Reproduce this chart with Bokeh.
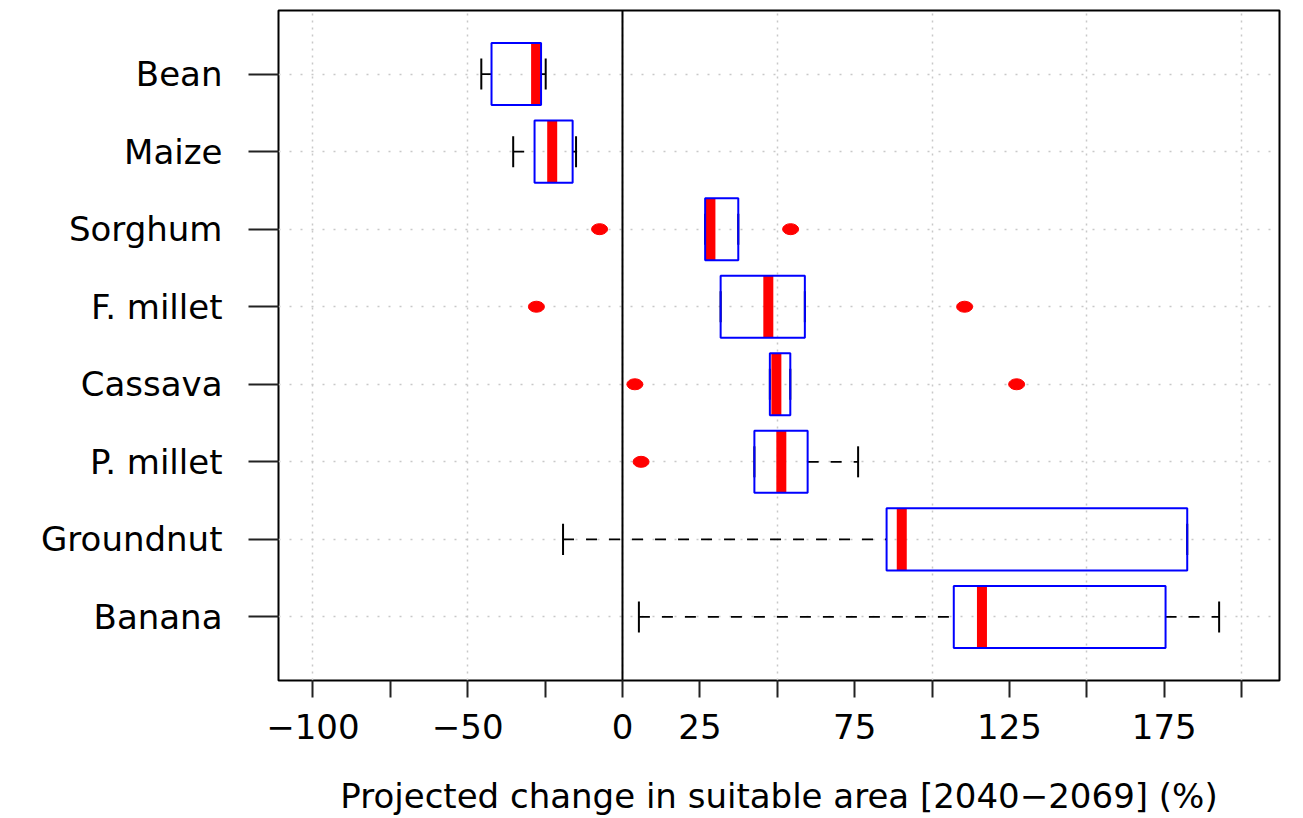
from bokeh.plotting import figure
from bokeh.models import FixedTicker, Span, ColumnDataSource
from bokeh.embed import file_html
from bokeh.resources import INLINE

# ---- data ----
crops = ["Bean", "Maize", "Sorghum", "F. millet", "Cassava", "P. millet", "Groundnut", "Banana"]
positions = [8, 7, 6, 5, 4, 3, 2, 1]
lower_whisker = [-45.6, -35.3, 26.7, 31.7, 47.6, 42.6, -19.2, 5.3]
q1 = [-42.3, -28.4, 26.7, 31.7, 47.6, 42.6, 85.3, 107.0]
median = [-27.9, -22.7, 28.4, 47.1, 49.7, 51.3, 90.2, 116.1]
q3 = [-26.3, -16.1, 37.4, 58.9, 54.2, 59.8, 182.4, 175.4]
upper_whisker = [-24.8, -15.0, 37.4, 58.9, 54.2, 76.1, 182.4, 192.7]
outlier_crop = ["Sorghum", "Sorghum", "F. millet", "F. millet", "Cassava", "Cassava", "P. millet"]
outlier_value = [-7.4, 54.3, -27.8, 110.5, 4.0, 127.3, 6.0]
x_ticks = [-100, -75, -50, -25, 0, 25, 50, 75, 100, 125, 150, 175, 200]
x_tick_labels = {-100: "\u2212100", -75: "", -50: "\u221250", -25: "", 0: "0", 25: "25",
                 50: "", 75: "75", 100: "", 125: "125", 150: "", 175: "175", 200: ""}
x_grid = [-100, -50, 0, 50, 100, 150, 200]
x_title = "Projected change in suitable area [2040\u22122069] (%)"

FONT = "DejaVu Sans"
FS = "34px"
half = 0.4
cap = 0.2
X0, X1 = -111.1, 212.2
Y0, Y1 = 0.18, 8.82

pos_of = dict(zip(crops, positions))

p = figure(width=1303, height=818, x_range=(X0, X1), y_range=(Y0, Y1),
           output_backend="svg", toolbar_location=None,
           min_border_left=278, min_border_right=24, min_border_top=10, min_border_bottom=138)
p.background_fill_color = "white"
p.border_fill_color = "white"
p.outline_line_color = "black"
p.outline_line_width = 2

# grids
p.xgrid.ticker = FixedTicker(ticks=x_grid)
p.xgrid.grid_line_color = "#c8c8c8"
p.xgrid.grid_line_dash = "2 5"
p.xgrid.grid_line_width = 1.5
p.ygrid.ticker = FixedTicker(ticks=positions)
p.ygrid.grid_line_color = "#c8c8c8"
p.ygrid.grid_line_dash = "2 9"
p.ygrid.grid_line_width = 1.5

# x axis
xa = p.xaxis[0]
xa.ticker = FixedTicker(ticks=x_ticks)
xa.major_label_overrides = x_tick_labels
xa.major_tick_out = 17
xa.major_tick_in = 0
xa.major_tick_line_width = 2
xa.major_tick_line_color = "#222222"
xa.minor_tick_line_color = None
xa.axis_line_color = None
xa.major_label_text_font = FONT
xa.major_label_text_font_size = FS
xa.major_label_text_color = "black"
xa.major_label_standoff = 16
xa.axis_label = x_title
xa.axis_label_text_font = FONT
xa.axis_label_text_font_size = FS
xa.axis_label_text_font_style = "normal"
xa.axis_label_text_color = "black"
xa.axis_label_standoff = 34

# y axis
ya = p.yaxis[0]
ya.ticker = FixedTicker(ticks=positions)
ya.major_label_overrides = {pp: c for pp, c in zip(positions, crops)}
ya.major_tick_out = 30
ya.major_tick_in = 0
ya.major_tick_line_width = 2
ya.major_tick_line_color = "#222222"
ya.minor_tick_line_color = None
ya.axis_line_color = None
ya.major_label_text_font = FONT
ya.major_label_text_font_size = FS
ya.major_label_text_color = "black"
ya.major_label_standoff = 26

# zero line
p.add_layout(Span(location=0, dimension="height", line_color="black", line_width=2))

src = ColumnDataSource(dict(y=positions, lw=lower_whisker, q1=q1, med=median, q3=q3, uw=upper_whisker,
                            ylo=[v - half for v in positions], yhi=[v + half for v in positions],
                            clo=[v - cap for v in positions], chi=[v + cap for v in positions]))

# whiskers (dashed)
p.segment(x0="lw", y0="y", x1="q1", y1="y", source=src, line_color="black", line_width=1.8, line_dash="11 12")
p.segment(x0="q3", y0="y", x1="uw", y1="y", source=src, line_color="black", line_width=1.8, line_dash="11 12")
# staples
p.segment(x0="lw", y0="clo", x1="lw", y1="chi", source=src, line_color="black", line_width=2)
p.segment(x0="uw", y0="clo", x1="uw", y1="chi", source=src, line_color="black", line_width=2)
# medians
p.segment(x0="med", y0="ylo", x1="med", y1="yhi", source=src, line_color="red", line_width=10, line_cap="butt")
# boxes
p.quad(left="q1", right="q3", bottom="ylo", top="yhi", source=src, fill_alpha=0,
       line_color="blue", line_width=2)
# outliers
p.ellipse(x=outlier_value, y=[pos_of[c] for c in outlier_crop], width=16, height=11,
          width_units="screen", height_units="screen", fill_color="red", line_color="red", line_width=1)

open("out.html", "w").write(file_html(p, INLINE))
